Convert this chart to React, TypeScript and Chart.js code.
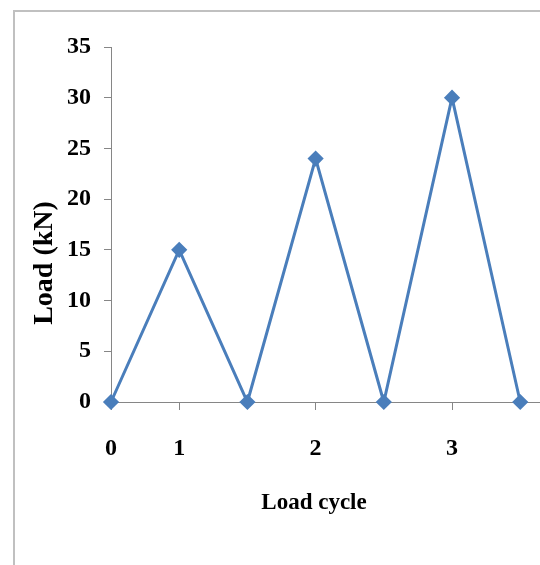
import React, { useEffect, useRef } from "react";
import { Chart, registerables } from "chart.js";

Chart.register(...registerables);

const cycleLabels = ["0", "1", "", "2", "", "3", ""];
const loadValues = [0, 15, 0, 24, 0, 30, 0];
const yTicks = { min: 0, max: 35, step: 5 };

export default function App() {
  const ref = useRef<HTMLCanvasElement | null>(null);

  useEffect(() => {
    if (!ref.current) return;
    const lineColor = "#4a7ebb";
    const axisColor = "#868686";
    const chart = new Chart(ref.current, {
      type: "line",
      data: {
        datasets: [
          {
            label: "Load",
            data: loadValues.map((v, i) => ({ x: i, y: v })),
            borderColor: lineColor,
            backgroundColor: lineColor,
            borderWidth: 3,
            pointStyle: "rectRot",
            pointRadius: 6,
            pointBackgroundColor: lineColor,
            pointBorderColor: lineColor,
            tension: 0,
            clip: false as any,
          },
        ],
      },
      options: {
        animation: false,
        responsive: false,
        maintainAspectRatio: false,
        layout: { autoPadding: false, padding: { top: 47, right: 0, left: 0, bottom: 0 } },
        plugins: { legend: { display: false }, tooltip: { enabled: false } },
        scales: {
          x: {
            type: "linear",
            min: 0,
            max: 6.29,
            afterFit: (s: any) => {
              s.height = 163;
              s.paddingLeft = 0;
              s.paddingRight = 0;
            },
            afterBuildTicks: (s: any) => {
              s.ticks = cycleLabels.map((_, i) => ({ value: i }));
            },
            ticks: {
              stepSize: 1,
              autoSkip: false,
              maxRotation: 0,
              padding: 24,
              color: "#000",
              font: { family: "'Liberation Serif', 'Times New Roman', serif", size: 24, weight: "bold" },
              callback: (v: any) => cycleLabels[Math.round(Number(v))] ?? "",
            },
            grid: {
              drawOnChartArea: false,
              drawTicks: true,
              tickLength: 8,
              tickColor: (ctx: any) =>
                ctx.tick && cycleLabels[Math.round(ctx.tick.value)] ? axisColor : "rgba(0,0,0,0)",
            },
            border: { color: axisColor, width: 1 },
            title: {
              display: true,
              text: "Load cycle    ",
              color: "#000",
              font: { family: "'Liberation Serif', 'Times New Roman', serif", size: 23, weight: "bold" },
              padding: { top: 0, bottom: 48 },
            },
          },
          y: {
            min: yTicks.min,
            max: yTicks.max,
            afterFit: (s: any) => {
              s.width = 111;
              s.paddingTop = 0;
              s.paddingBottom = 0;
            },
            ticks: {
              stepSize: yTicks.step,
              padding: 13,
              color: "#000",
              font: { family: "'Liberation Serif', 'Times New Roman', serif", size: 24, weight: "bold" },
            },
            grid: {
              drawOnChartArea: false,
              drawTicks: true,
              tickLength: 7,
              tickColor: axisColor,
            },
            border: { color: axisColor, width: 1 },
            title: {
              display: true,
              text: "Load (kN)           ",
              color: "#000",
              font: { family: "'Liberation Serif', 'Times New Roman', serif", size: 28, weight: "bold" },
              padding: { top: 28, bottom: 0 },
            },
          },
        },
      },
    });
    return () => chart.destroy();
  }, []);

  return (
    <div
      style={{
        position: "absolute",
        left: 0,
        top: 0,
        width: 540,
        height: 565,
        overflow: "hidden",
        background: "#fff",
      }}
    >
      <div
        style={{
          position: "absolute",
          left: 13,
          top: 10,
          width: 600,
          height: 600,
          border: "2px solid #c0c0c0",
        }}
      />
      <canvas ref={ref} width={540} height={565} style={{ position: "absolute", left: 0, top: 0 }} />
    </div>
  );
}
